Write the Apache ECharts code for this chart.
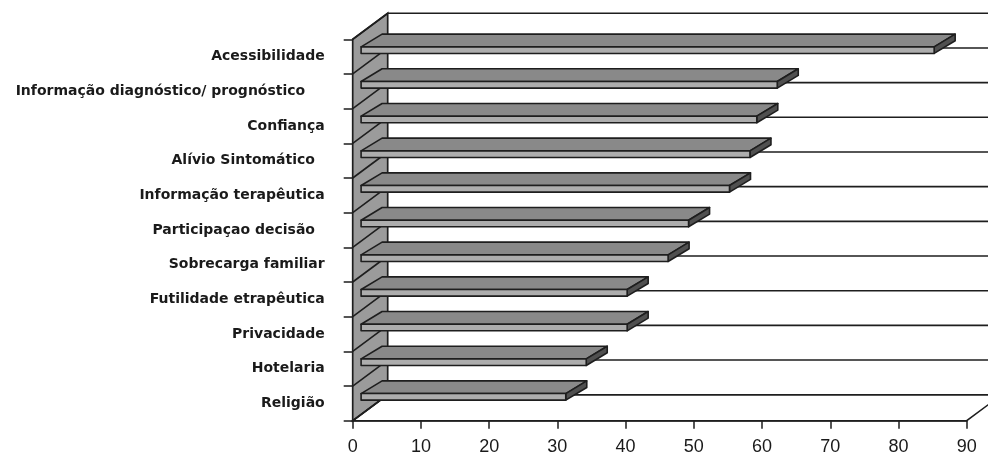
<!DOCTYPE html>
<html><head><meta charset="utf-8">
<script src="https://cdn.jsdelivr.net/npm/echarts@6/dist/echarts.min.js"></script>
<style>html,body{margin:0;padding:0;background:#fff}#c{width:988px;height:452px}</style>
</head><body><div id="c"></div>
<script>
// ---- data ----
const categories = ['Acessibilidade', 'Informação diagnóstico/ prognóstico', 'Confiança', 'Alívio Sintomático',
  'Informação terapêutica', 'Participaçao decisão', 'Sobrecarga familiar', 'Futilidade etrapêutica',
  'Privacidade', 'Hotelaria', 'Religião'];
const values = [84, 61, 58, 57, 54, 48, 45, 39, 39, 33, 30];
const xMin = 0, xMax = 90, xStep = 10;

// ---- layout / style (not data) ----
const labelTrail = [0, 4, 0, 2, 0, 2, 0, 0, 0, 0, 0]; // trailing spaces seen in original labels
const ink = '#1e1e1e';
const WALL_DX = 35, WALL_DY = -26;     // depth of the 3D box
const BAR_FX = 8.4;                    // bar front face offset into depth
const BAR_TOP = -9.8, BAR_BOT = -3.2;  // bar front face relative to band centre
const BAR_DX = 21, BAR_DY = -12.7;     // bar depth

function renderFrame(params, api) {
  const n = categories.length;
  const bh = api.size([0, 1])[1];
  const xL = api.coord([xMin, 0])[0], xR = api.coord([xMax, 0])[0];
  const yTop = api.coord([xMin, 0])[1] - bh / 2;
  const yBot = api.coord([xMin, n - 1])[1] + bh / 2;
  const st = {stroke: ink, lineWidth: 1.6};
  const ch = [];
  ch.push({type: 'polygon', shape: {points: [[xL, yBot], [xL + WALL_DX, yBot + WALL_DY], [xR + WALL_DX, yBot + WALL_DY], [xR, yBot]]},
    style: {fill: '#fff', stroke: ink, lineWidth: 1.6}});
  for (let k = 0; k <= n; k++) {
    const y = yTop + k * bh + WALL_DY;
    ch.push({type: 'line', shape: {x1: xL + WALL_DX, y1: y, x2: xR + WALL_DX + 40, y2: y}, style: st});
  }
  ch.push({type: 'polygon', shape: {points: [[xL, yTop], [xL + WALL_DX, yTop + WALL_DY], [xL + WALL_DX, yBot + WALL_DY], [xL, yBot]]},
    style: {fill: '#9b9b9b', stroke: ink, lineWidth: 1.7}});
  for (let k = 0; k <= n; k++) {
    const y = yTop + k * bh;
    ch.push({type: 'line', shape: {x1: xL, y1: y, x2: xL + WALL_DX, y2: y + WALL_DY}, style: st});
  }
  return {type: 'group', children: ch};
}

function renderBar(params, api) {
  const idx = api.value(1), v = api.value(0);
  const p0 = api.coord([xMin, idx]);
  const pv = api.coord([v, idx]);
  const x0 = p0[0] + BAR_FX, x1 = pv[0] + BAR_FX;
  const t = p0[1] + BAR_TOP, b = p0[1] + BAR_BOT;
  const st = {stroke: ink, lineWidth: 1.6, lineJoin: 'round'};
  return {type: 'group', children: [
    {type: 'polygon', shape: {points: [[x0, t], [x1, t], [x1 + BAR_DX, t + BAR_DY], [x0 + BAR_DX, t + BAR_DY]]},
      style: Object.assign({fill: '#898989'}, st)},
    {type: 'polygon', shape: {points: [[x1, t], [x1 + BAR_DX, t + BAR_DY], [x1 + BAR_DX, b + BAR_DY], [x1, b]]},
      style: Object.assign({fill: '#505050'}, st)},
    {type: 'polygon', shape: {points: [[x0, t], [x1, t], [x1, b], [x0, b]]},
      style: Object.assign({fill: '#adadad'}, st)}
  ]};
}

const chart = echarts.init(document.getElementById('c'), null, {renderer: 'canvas'});
chart.setOption({
  animation: false,
  backgroundColor: '#fff',
  grid: {left: 352.7, right: 21.3, top: 39.3, bottom: 31.3, containLabel: false, outerBoundsMode: 'none'},
  xAxis: {
    type: 'value', min: xMin, max: xMax, interval: xStep,
    axisLine: {show: true, lineStyle: {color: ink, width: 1.6}},
    axisTick: {show: true, length: 8, lineStyle: {color: ink, width: 1.5}},
    splitLine: {show: false},
    axisLabel: {fontFamily: 'Liberation Sans', fontSize: 18, color: '#1a1a1a', margin: 17}
  },
  yAxis: {
    type: 'category', data: categories, inverse: true,
    axisLine: {show: true, lineStyle: {color: ink, width: 1.6}},
    axisTick: {show: true, length: 9, lineStyle: {color: ink, width: 1.5}},
    splitLine: {show: false},
    axisLabel: {fontFamily: 'DejaVu Sans', fontWeight: 'bold', fontSize: 14, color: '#1a1a1a', margin: 28,
      formatter: (v, i) => v + ' '.repeat(labelTrail[i] || 0)}
  },
  series: [
    {type: 'custom', silent: true, z: 1, renderItem: renderFrame, data: [[xMin, 0]], encode: {x: 0, y: 1}, clip: false},
    {type: 'custom', silent: true, z: 3, renderItem: renderBar, data: values.map((v, i) => [v, i]), encode: {x: 0, y: 1}, clip: false}
  ]
});
</script></body></html>
